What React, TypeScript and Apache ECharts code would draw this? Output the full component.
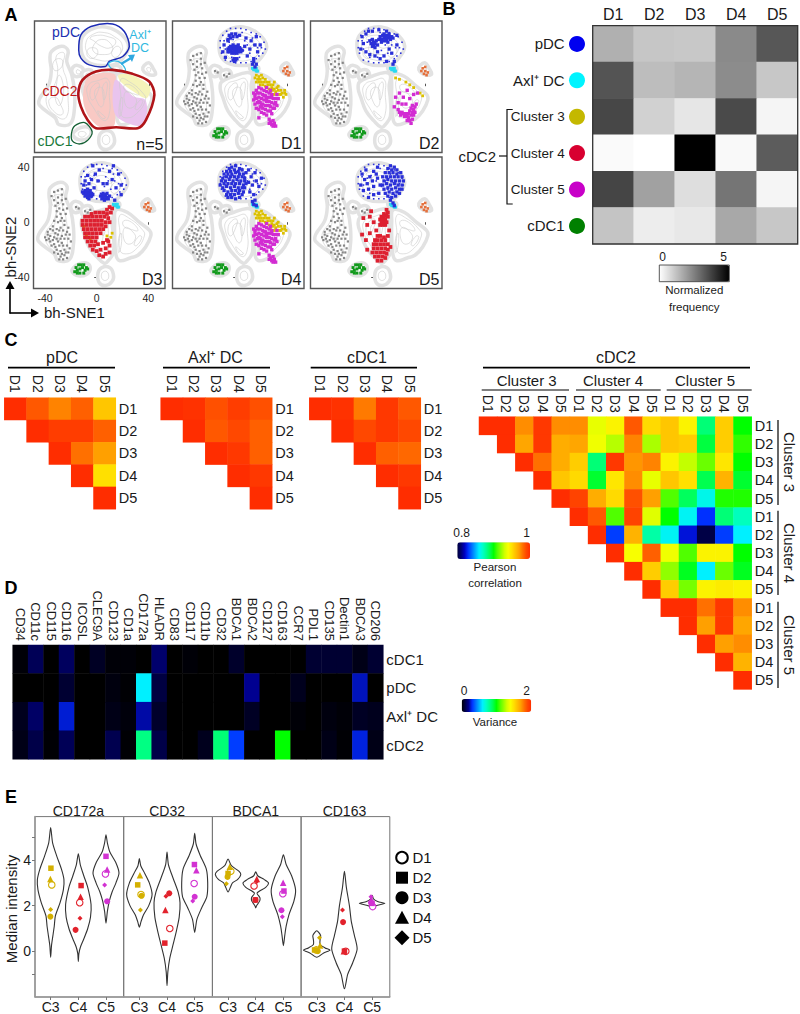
import React, { useEffect, useRef } from "react";
import * as echarts from "echarts";

const FONT = "Liberation Sans";
const donors = ["D1", "D2", "D3", "D4", "D5"];

// ---------- Panel B: normalized frequency
const freqRows = ["pDC", "Axl⁺ DC", "Cluster 3", "Cluster 4", "Cluster 5", "cDC1"];
const freqValues = [
  [1.55, 1.12, 1.08, 2.3, 3.3],
  [3.35, 1.3, 1.45, 2.25, 1.1],
  [3.6, 0.9, 0.5, 3.55, 0.2],
  [0.1, 0, 5, 0.12, 3.2],
  [3.65, 1.85, 0.65, 2.7, 0.2],
  [1.15, 0.35, 0.45, 1.7, 1.1],
];
const freqDotColors = ["#0000f0", "#00f4ff", "#c4b800", "#d80030", "#c800c8", "#008000"];

// ---------- Panel C: Pearson correlation (rows start on the diagonal)
const corrPDC = [[1, 0.986, 0.976, 0.984, 0.958], [1, 0.994, 0.994, 0.984], [1, 0.98, 0.97], [1, 0.95], [1]];
const corrAxl = [[1, 0.998, 0.988, 0.994, 0.988], [1, 0.986, 0.99, 0.984], [1, 0.996, 0.984], [1, 0.996], [1]];
const corrCDC1 = [[1, 0.998, 0.978, 0.996, 0.986], [1, 0.99, 0.996, 0.99], [1, 0.984, 0.982], [1, 0.996], [1]];
const corrCDC2 = [
  [1, 1, 0.974, 0.996, 0.974, 0.974, 0.936, 0.944, 0.986, 0.952, 0.958, 0.944, 0.884, 0.956, 0.9],
  [1, 0.968, 0.996, 0.966, 0.968, 0.938, 0.926, 0.976, 0.924, 0.958, 0.956, 0.892, 0.956, 0.906],
  [1, 0.98, 0.966, 0.956, 0.884, 0.996, 0.972, 0.976, 0.944, 0.928, 0.914, 0.948, 0.9],
  [1, 0.958, 0.952, 0.894, 0.948, 0.974, 0.936, 0.958, 0.95, 0.89, 0.964, 0.894],
  [1, 0.992, 0.966, 0.952, 0.988, 0.97, 0.91, 0.888, 0.864, 0.904, 0.904],
  [1, 0.986, 0.91, 0.992, 0.934, 0.9, 0.862, 0.83, 0.884, 0.872],
  [1, 0.832, 0.964, 0.876, 0.862, 0.824, 0.802, 0.832, 0.86],
  [1, 0.94, 0.984, 0.938, 0.91, 0.944, 0.944, 0.9],
  [1, 0.956, 0.92, 0.896, 0.86, 0.914, 0.896],
  [1, 0.956, 0.916, 0.944, 0.946, 0.944],
  [1, 1, 0.98, 0.996, 0.974],
  [1, 0.97, 0.996, 0.968],
  [1, 0.97, 0.974],
  [1, 0.964],
  [1],
];
const jetStops = ["#00003c", "#000070", "#0000c0", "#0030ff", "#0070ff", "#00b0ff", "#00f0ff", "#00ffc8", "#00ff90", "#00ff50", "#00ff00", "#50ff00", "#90ff00", "#d0ff00", "#f8ff00", "#ffe000", "#ffc000", "#ffa000", "#ff7000", "#ff4800", "#ff2d00"];
const varStops = ["#000000", "#000048", "#000090", ...jetStops.slice(3)];

// ---------- Panel D: variance
const markers = ["CD34", "CD11c", "CD115", "CD116", "ICOSL", "CLEC9A", "CD123", "CD1a", "CD172a", "HLADR", "CD83", "CD117", "CD11b", "CD32", "BDCA1", "BDCA2", "CD127", "CD163", "CCR7", "PDL1", "CD135", "Dectin1", "BDCA3", "CD206"];
const varRows = ["cDC1", "pDC", "Axl⁺ DC", "cDC2"];
const varValues = [
  [0.01, 0.12, 0, 0.13, 0, 0.05, 0.01, 0.01, 0, 0.15, 0, 0.01, 0, 0, 0.06, 0, 0, 0, 0, 0.07, 0.07, 0.07, 0.03, 0.07],
  [0, 0, 0, 0.07, 0, 0, 0.02, 0.005, 0.6, 0.09, 0, 0, 0, 0, 0, 0.2, 0, 0, 0.04, 0, 0, 0, 0.24, 0],
  [0.04, 0.14, 0, 0.26, 0, 0, 0.03, 0.015, 0.22, 0.06, 0, 0, 0, 0, 0, 0.05, 0, 0, 0.01, 0, 0.02, 0.01, 0.05, 0.04],
  [0.03, 0.1, 0.005, 0.12, 0, 0, 0.11, 0.005, 0.82, 0.1, 0, 0, 0.04, 0.84, 0.32, 0, 0, 1.0, 0, 0, 0.03, 0.005, 0.27, 0.03],
];

// ---------- Panel A: t-SNE islands (data coordinates)
const islands = [
  [[-13, 30], [-11, 37], [-3, 42], [6, 43], [15, 40], [22, 34], [24, 28], [20, 21], [14, 16], [6, 15], [-4, 16], [-11, 21]],
  [[-36, 25], [-28, 29], [-23, 26], [-24, 18], [-20, 8], [-18, -4], [-18, -16], [-21, -27], [-30, -28], [-33, -23], [-45, -14], [-45, -9], [-38, 1], [-36, 11], [-37, 20]],
  [[-19, 14], [-15, 15], [-11, 12], [-13, 8], [-17, 7], [-20, 10]],
  [[-12, 10], [-6, 12], [-3, 8], [-5, 5], [-10, 4]],
  [[-11, 3], [-2, 7], [9, 10], [13, 8], [12, 0], [13, -10], [13, -22], [9, -28], [6, -30], [0, -25], [-6, -18], [-10, -8], [-12, -2]],
  [[15, 9], [24, 7], [33, 0], [41, -6], [42, -10], [38, -18], [32, -24], [26, -26], [18, -28], [15, -24], [14, -10], [14, 0]],
  [[36, 15], [40, 17], [43, 13], [45, 9], [42, 8], [38, 9], [35, 12]],
  [[-18, -33], [-13, -30], [-7, -30], [-5, -34], [-8, -38], [-14, -39], [-19, -36]],
  [[1, -37], [4, -33], [10, -33], [13, -38], [12, -43], [7, -46], [2, -44]],
  [[11, 14], [15, 15], [18, 13], [16, 10], [12, 11]],
];
const contours = [
  [[-9, 32], [-3, 38], [5, 39], [13, 36], [19, 30], [17, 23], [10, 19], [1, 19], [-7, 23]],
  [[-3, 30], [3, 34], [10, 31], [11, 25], [4, 23], [-3, 25]],
  [[-6, 35], [0, 37], [8, 36], [14, 33], [10, 28], [3, 29], [-3, 33]],
  [[-8, 26], [-4, 28], [0, 26], [-2, 21], [-7, 21]],
  [[12, 27], [16, 29], [18, 25], [14, 21], [11, 23]],
  [[-32, 22], [-26, 24], [-27, 14], [-24, 4], [-23, -8], [-24, -22], [-30, -23], [-40, -11], [-33, 2], [-31, 12]],
  [[-30, 8], [-27, 2], [-27, -8], [-30, -14], [-33, -8], [-32, 1]],
  [[-34, 18], [-29, 20], [-27, 17], [-30, 12], [-34, 12]],
  [[-38, -11], [-33, -8], [-29, -13], [-27, -20], [-32, -20]],
  [[-7, 1], [0, 4], [8, 5], [9, -6], [9, -20], [5, -25], [-3, -16], [-8, -6]],
  [[-2, -3], [3, -1], [5, -8], [3, -15], [-1, -10]],
  [[-6, -5], [-3, 1], [1, 2], [0, -4], [-4, -10]],
  [[4, 0], [7, 3], [7, -4], [5, -10], [4, -6]],
  [[0, -18], [3, -20], [6, -23], [3, -23]],
  [[18, 5], [25, 3], [35, -5], [37, -10], [30, -20], [22, -23], [18, -20], [18, -8]],
  [[22, -4], [28, -7], [30, -12], [25, -16], [21, -12]],
  [[21, 1], [27, 0], [32, -6], [26, -5], [21, -3]],
  [[33, -10], [35, -11], [31, -17], [29, -16]],
  [[17, -12], [19, -8], [19, -17], [17, -22]],
  [[-16, 12], [-13, 10], [-16, 9]],
  [[-9, 9], [-6, 9], [-8, 6]],
  [[38, 13], [41, 13], [40, 10]],
  [[-15, -34], [-11, -33], [-9, -35], [-13, -37]],
  [[4, -37], [8, -36], [9, -41], [5, -42]],
];
const gatePDC = [[-14.7, 26.4], [-13, 37.3], [-5.2, 43.4], [11.6, 45.3], [20.7, 39.8], [24.5, 28.8], [19.4, 21.6], [9, 18], [6, 14.3], [-6.5, 15.5], [-13, 20.4]];
const gateAxl = [[8.5, 16.7], [13, 18.4], [18.3, 16.7], [21.6, 11.4], [14.3, 11.2], [10.4, 13]];
const gateCDC2 = [[-15, -5], [-11.7, 4.6], [-1.3, 10.7], [11.6, 11.9], [27, 9], [40, 3.4], [44, -6.3], [37.5, -24.5], [31, -30.5], [14.3, -29.8], [-1.3, -30.5], [-7.8, -24.5], [-13, -14.8]];
const gateCDC1 = [[-20.3, -34.2], [-17.7, -28.8], [-10, -26.4], [-4.3, -33], [-7.4, -39], [-13.8, -42], [-19.5, -40]];
const tintC4 = [[-11, -2.7], [-8.2, 5.8], [2, 9.5], [13.7, 8.2], [12.4, -3.9], [13.7, -18.4], [12.4, -29], [2, -29.8], [-7, -22], [-11, -12.4]];
const tintC5 = [[13.7, 4.6], [27.9, -7.5], [37, -10], [37.7, -22], [31.8, -29], [13.7, -20.8]];
const tintC3 = [[16, 8.2], [26.4, 8.2], [40.6, -0.2], [38, -8.7], [27.7, -3.9], [18, 3]];

// dots, as flat x,y lists
const bluD1 = [-6,27,-5,25,-5,28,-4,26,-4,29,-3,24,-3,27,-2,25,-2,28,-2,30,-1,24,-1,26,-1,28,0,25,0,27,0,29,1,24,1,26,1,28,2,25,2,27,2,30,3,26,3,28,4,25,4,27,-6,25,5,26,-5,37,-3,38,-2,36,0,38,-4,35,1,36,3,37,-6,34,-2,19,-1,20,0,19,-1,18,1,20,8,35,12,33,15,30,17,25,14,20,9,22,11,27,7,29,19,30,-9,30,-10,25,-8,21,-6,33,16,36,13,16,15,14,14,18,16,16];
const bluD2 = [5,36,6,34,7,37,7,33,8,35,8,38,9,33,9,36,10,34,10,37,11,35,11,32,12,36,12,38,13,34,6,32,14,36,4,34,15,35,10,40,-2,31,-1,29,0,32,0,30,1,28,1,31,2,33,-3,33,-1,34,3,30,-9,36,-6,38,-4,40,-8,31,-10,27,-6,25,-3,23,1,22,5,20,8,22,3,25,12,27,14,24,10,18,18,30,18,37,-1,40,4,41,16,18,15,16];
const bluD3 = [-10,21,-9,19,-9,23,-8,20,-8,22,-7,18,-7,21,-7,24,-6,19,-6,22,-5,20,-5,23,-4,19,-4,21,-11,22,-3,20,-6,17,3,19,4,17,4,20,5,18,5,21,6,16,6,19,7,17,7,20,8,18,8,21,9,17,10,19,-9,30,-7,34,-6,28,-4,31,-1,35,2,38,5,28,10,37,12,31,15,25,17,35,19,27,-2,25,1,30,8,28,-10,27,13,41,-3,41,19,20,14,16];
const bluD4 = [-3,40,0,41,3,39,-5,39,-7,37,-4,37,-1,38,2,37,5,38,-9,35,-6,35,-3,35,0,36,3,35,6,35,8,36,-10,32,-7,33,-4,33,-1,33,2,33,5,33,7,32,-11,30,-8,30,-5,31,-2,30,1,31,4,30,7,30,-12,27,-9,28,-6,28,-3,28,0,28,3,28,6,27,8,28,-10,25,-7,26,-4,25,-1,26,2,25,5,25,7,25,-9,23,-6,22,-3,23,0,23,3,23,6,22,-7,20,-4,20,-1,20,2,21,5,20,-3,18,0,17,3,18,-6,18,10,38,12,33,13,27,15,36,11,22,16,30,18,26,14,20,20,32,10,29,13,15,14,13,15,16,16,12];
const bluD5 = [13,41,16,40,11,39,14,38,18,38,9,36,12,36,15,36,18,35,21,36,7,33,10,33,13,33,16,33,19,33,22,33,8,30,11,31,14,30,17,30,20,30,23,30,7,27,10,28,13,27,16,28,19,27,22,27,8,24,11,25,14,24,17,25,20,24,22,24,9,21,12,22,15,21,18,22,20,21,11,19,14,18,17,19,13,16,-9,35,-6,38,-3,33,0,37,3,40,-1,30,-5,28,-10,27,-8,23,-4,24,0,26,3,32,4,21,0,20,-4,18,5,27,2,35,-7,31,15,14,16,12];
const bluFine = [-12,33,-10,37,-7,40,-4,42,0,42,4,42,8,41,12,39,16,38,19,36,22,32,23,27,21,24,18,22,16,20,12,18,8,17,4,17,0,17,-4,18,-8,19,-11,24,-12,28,-5,32,-2,34,2,30,6,26,9,30,11,24,14,30,13,35,7,33,-8,27,-3,21,3,21,17,28,20,28,5,39,-9,33];
const magMain = [16,-3,18,-1,20,-2,22,-3,24,-4,26,-5,28,-6,15,-6,17,-5,19,-5,21,-6,23,-7,25,-8,27,-8,29,-9,31,-9,16,-9,18,-8,20,-9,22,-10,24,-11,26,-11,28,-12,30,-13,17,-12,19,-12,21,-13,23,-14,25,-14,27,-15,29,-16,19,-15,21,-16,23,-17,25,-18,27,-18,28,-20,24,-21,26,-24,27,-26,29,-25,30,-27,28,-28,31,-29,26,-27,29,-29,22,-20,18,-23,14,-10,15,-13,16,-16,18,-17,20,-19,15,-8,14,-5,32,-6,33,-9,31,-12,32,-14,30,-16,24,-1,27,-3,20,-14,22,-7,18,-11,26,-14,28,-8,24,-9];
const magD2 = [29,-21,30,-19,31,-17,32,-15,33,-13,28,-18,29,-16,30,-14,27,-20,26,-22,25,-20,24,-22,23,-20,22,-19,21,-21,20,-19,19,-17,27,-23,28,-25,29,-27,30,-24,26,-25,31,-21,32,-19,17,-8,20,-5,23,-8,26,-3,28,-9,31,-6,22,-13,25,-13,34,-5,19,-12,16,-15];
const yelMain = [16,8,18,7,20,8,17,5,19,5,21,6,23,5,18,3,20,3,22,3,24,3,26,3,25,1,27,1,29,1,23,0,28,-1,30,-2,32,-1,31,-4,33,-3,35,-3,34,-6,36,-5,38,-5,30,-6,37,-8,33,-9,15,6,16,3,19,1,21,1,24,-1,26,-2,29,-3,27,-4,32,-6,35,-6,38,-3,39,-6,30,3,33,0];
const yelD2 = [17,6,20,5,25,3,31,-1,36,-5,38,-7,28,1];
const yelD3 = [-10,-3,-8,-10,-5,-12,8,-10,11,-11,12,-8];
const redD3 = [10,11,12,10,8,9,-4,6,-1,7,2,7,5,7,8,6,11,7,-9,4,-6,4,-3,4,0,4,3,4,6,4,9,3,-11,1,-8,1,-5,1,-2,1,1,1,4,1,7,0,10,0,-11,-2,-8,-2,-5,-2,-2,-2,1,-2,4,-2,7,-3,-10,-5,-7,-5,-4,-5,-1,-5,2,-5,5,-5,-9,-8,-6,-8,-3,-8,0,-8,3,-8,-9,-11,-6,-11,-3,-11,0,-11,-7,-14,-4,-14,-1,-14,-5,-17,-2,-17,1,-16,5,-15,8,-13,-3,-20,0,-21,3,-20,7,-19,10,-17,2,-24,5,-25,7,-23,10,-22,9,-14];
const redD5 = [10,9,11,7,8,6,10,5,6,4,8,4,11,4,5,2,7,2,9,2,6,0,8,0,10,0,5,-2,7,-2,9,-2,3,-10,5,-10,8,-11,1,-13,3,-13,6,-13,9,-13,0,-16,2,-16,5,-16,8,-16,11,-16,0,-19,3,-19,6,-19,9,-19,11,-20,-1,-22,2,-22,5,-22,8,-22,10,-23,1,-25,4,-25,7,-25,9,-26,3,-28,6,-28,-8,3,-5,-2,-3,4,-9,-9,-6,-13,-3,-8,0,0,2,-6,12,-6,11,-10,-5,-20,13,-18,-2,8];
const grayDots = [-30,18,-27,20,-32,12,-29,10,-26,13,-31,4,-27,3,-24,6,-34,-3,-31,-5,-28,-4,-25,-2,-22,-4,-36,-10,-33,-11,-30,-9,-27,-10,-24,-9,-39,-13,-36,-14,-33,-16,-30,-14,-27,-15,-25,-20,-28,-21,-31,-20,-25,-24,-28,-25,-22,-22,-38,-9,-16,11,-14,10,-9,8,-7,7,-5,9,-34,-6,-32,-8,-29,-6,-26,-6,-23,-7,-37,-12,-34,-13,-31,-12,-28,-12,-25,-12,-22,-12,-40,-11,-35,-17,-32,-18,-29,-17,-26,-17,-23,-17,-33,-22,-30,-23,-27,-23,-24,-22,-29,-27,-26,-27,-23,-26,-30,0,-28,1,-25,1,-33,1,-28,6,-31,8,-26,9,-23,10,-33,16,-30,14,-27,16,-24,17,-33,22,-30,23,-27,24,-35,19,-36,-5,-38,-7,-21,-9,-20,-14,-21,-19];
const greenDots = [-16,-33,-14,-31,-12,-31,-10,-31,-8,-33,-15,-35,-13,-34,-11,-33,-9,-35,-17,-36,-15,-37,-13,-37,-10,-37,-7,-34];
const orangeDots = [38,13,40,11,41,8,39,9,42,10,37,11,40,14];
const cyanDots = [14,12,15,12,16,11,17,11,15,13,16,13,13,13];

// ---------- Panel E: violin outlines as [intensity, half width] and points
const violinPanels = ["CD172a", "CD32", "BDCA1", "CD163"];
const clusterNames = ["C3", "C4", "C5"];
const clusterColors = ["#d4b000", "#e2222c", "#d232d2"];
const violins = [
  [
    [[5.42,0],[4.75,.07],[4.17,.22],[3.6,.39],[3.14,.48],[2.7,.46],[2.13,.34],[1.55,.17],[1.1,.13],[.68,.08],[.25,.03],[-.26,0]],
    [[4.27,0],[3.8,.07],[3.3,.2],[2.8,.34],[2.05,.46],[1.5,.44],[1,.34],[.55,.2],[.2,.08],[-.1,.02],[-.45,0]],
    [[5.1,0],[4.75,.05],[4.35,.14],[3.9,.35],[3.43,.47],[3,.36],[2.6,.22],[2.2,.12],[1.75,.05],[1.23,0]],
  ],
  [
    [[4.06,0],[3.75,.05],[3.4,.2],[3,.36],[2.49,.46],[2,.34],[1.6,.15],[1.3,.06],[1.06,0]],
    [[4.35,0],[3.8,.05],[3.2,.22],[2.6,.4],[2.13,.47],[1.5,.44],[.9,.34],[.3,.22],[-.3,.1],[-.9,.03],[-1.5,0]],
    [[5.17,0],[4.7,.05],[4.2,.2],[3.6,.42],[3,.47],[2.4,.44],[1.9,.25],[1.4,.08],[.83,0]],
  ],
  [
    [[4.04,0],[3.75,.12],[3.5,.4],[3.36,.46],[3.15,.35],[3,.16],[2.85,.1],[2.6,0]],
    [[3.48,0],[3.3,.08],[3.15,.3],[3,.46],[2.8,.36],[2.55,.05],[2.35,.15],[2.2,.14],[2,.03],[1.9,0]],
    [[4.23,0],[3.8,.1],[3.3,.3],[2.7,.44],[2.2,.38],[1.6,.2],[1.1,.1],[.7,.05],[.25,0]],
  ],
  [
    [[.9,0],[.7,.14],[.5,.12],[.3,.12],[.15,.3],[.05,.48],[-.07,.25],[-.26,0]],
    [[3.5,0],[2.8,.07],[2,.18],[1.3,.25],[.7,.36],[.1,.46],[-.5,.3],[-1,.12],[-1.64,0]],
    [[2.45,0],[2.3,.05],[2.18,.2],[2.1,.46],[2.02,.2],[1.95,.06],[1.85,0]],
  ],
];
// per panel, per cluster, per donor: [x on the category scale, intensity]
const violinPoints = [
  [
    [[1.04,2.91],[1.01,3.64],[.99,1.52],[.99,3.17],[1,1.83]],
    [[2.05,2.13],[2.1,2.88],[1.9,.94],[2.08,2.39],[2.06,1.45]],
    [[2.98,3.39],[3,4.16],[3.04,2.19],[3.04,3.58],[2.95,2.91]],
  ],
  [
    [[1.06,2.49],[.94,2.91],[1.08,2.43],[1.02,3.33],[1.04,1.81]],
    [[2.1,1],[1.92,.36],[2.08,2.54],[1.94,1.81],[1.96,2.41]],
    [[2.98,2.97],[2.99,3.8],[3,2.39],[3.06,3.55],[2.93,2.2]],
  ],
  [
    [[1.1,3.51],[1,3.41],[.98,3.26],[1.06,3.7],[.94,2.96]],
    [[1.94,2.86],[1.99,2.25],[1.99,2.25],[2.04,3.17],[2.04,3.06]],
    [[2.98,2.52],[3.02,2.64],[2.93,1.8],[2.99,3],[2.96,1.51]],
  ],
  [
    [[.98,.06],[.92,.06],[1.04,.01],[1.12,.25],[1.1,.6]],
    [[2.05,0],[2,.01],[1.95,1.28],[1.98,0],[1.93,1.81]],
    [[3.02,1.96],[3,2.1],[2.96,2.13],[2.98,2.25],[2.96,2.39]],
  ],
];
const donorSymbols = ["circle", "rect", "circle", "triangle", "diamond"];
const donorSizes = [6.5, 5.5, 6, 6.5, 5];

const pairs = (flat: number[]) => {
  const out: number[][] = [];
  for (let i = 0; i < flat.length; i += 2) out.push([flat[i], flat[i + 1]]);
  return out;
};

function buildOption() {
  const grid: any[] = [], xAxis: any[] = [], yAxis: any[] = [], series: any[] = [], visualMap: any[] = [], graphic: any[] = [];

  const addGrid = (left: number, top: number, width: number, height: number, gridExtra: any, x: any, y: any) => {
    grid.push({ left, top, width, height, containLabel: false, ...gridExtra });
    xAxis.push({ gridIndex: grid.length - 1, ...x });
    yAxis.push({ gridIndex: grid.length - 1, ...y });
    return grid.length - 1;
  };
  const txt = (x: number, y: number, text: string, size: number, o: any = {}) =>
    graphic.push({
      type: "text", x, y, rotation: o.rot || 0, z: 100, silent: true,
      style: { text, fontSize: size, fontFamily: FONT, fontWeight: o.weight || "normal", fill: o.color || "#1a1a1a", textAlign: o.align || "center", textVerticalAlign: "middle", align: o.align || "center", verticalAlign: "middle" },
    });
  const ln = (x1: number, y1: number, x2: number, y2: number, w = 1.5, stroke = "#111") =>
    graphic.push({ type: "line", z: 100, silent: true, shape: { x1, y1, x2, y2 }, style: { stroke, lineWidth: w } });
  const box = (x: number, y: number, width: number, height: number, stroke = "#444", w = 1) =>
    graphic.push({ type: "rect", z: 100, silent: true, shape: { x, y, width, height }, style: { fill: "none", stroke, lineWidth: w } });

  const polySeries = (g: number, polys: number[][][], style: any, smooth = 0.45, z = 2) =>
    series.push({
      type: "custom", coordinateSystem: "cartesian2d", xAxisIndex: g, yAxisIndex: g, silent: true, z, clip: false,
      data: polys.map((p) => p[0]),
      renderItem: (params: any, api: any) => ({
        type: "polygon",
        shape: { points: polys[params.dataIndex].map((p) => api.coord(p)), smooth },
        style,
      }),
    });
  const dotSeries = (g: number, flat: number[], color: string, size = 2.8) =>
    series.push({ type: "scatter", xAxisIndex: g, yAxisIndex: g, data: pairs(flat), symbol: "rect", symbolSize: size, itemStyle: { color, opacity: 1 }, silent: true, z: 4 });

  // ---- letters
  txt(11, 15, "A", 18, { weight: "bold", color: "#000" });
  txt(449, 9, "B", 18, { weight: "bold", color: "#000" });
  txt(11, 340, "C", 18, { weight: "bold", color: "#000" });
  txt(11, 588, "D", 18, { weight: "bold", color: "#000" });
  txt(11, 797, "E", 18, { weight: "bold", color: "#000" });

  // ---- Panel A
  const tsnePanels: any[] = [
    { l: 34.5, t: 21, name: "n=5" },
    { l: 172.5, t: 21, name: "D1", blue: bluD1, mag: magMain, yel: yelMain, gray: grayDots },
    { l: 310.5, t: 21, name: "D2", blue: bluD2, mag: magD2, yel: yelD2, gray: grayDots },
    { l: 33.5, t: 157, name: "D3", blue: bluD3, red: redD3, yel: yelD3, gray: grayDots, labelled: true },
    { l: 172.5, t: 157, name: "D4", blue: bluD4, mag: magMain, yel: yelMain, gray: grayDots },
    { l: 310.5, t: 157, name: "D5", blue: bluD5, red: redD5, gray: grayDots },
  ];
  tsnePanels.forEach((p) => {
    const lab = !!p.labelled;
    const axisBase = { type: "value", splitLine: { show: false }, axisLine: { show: false } };
    const g = addGrid(p.l, p.t, 131.5, 131.5, {},
      {
        ...axisBase, min: -49, max: 53, position: "bottom",
        axisTick: { show: true, length: 2.5, inside: p.t < 100, lineStyle: { color: "#555" }, customValues: [-40, -20, 0, 20, 40] },
        axisLabel: { show: lab, fontSize: 10.5, fontFamily: FONT, color: "#222", margin: 4, customValues: [-40, 0, 40] },
      },
      {
        ...axisBase, min: -48.2, max: 47.4, position: "left",
        axisTick: { show: true, length: 2.5, inside: p.t < 100, lineStyle: { color: "#555" }, customValues: [-40, -20, 0, 20, 40] },
        axisLabel: { show: lab, fontSize: 10.5, fontFamily: FONT, color: "#222", margin: 4, customValues: [-40, 0, 40] },
      });
    polySeries(g, islands, { fill: "#fff", stroke: "#e2e2e2", lineWidth: 3.5 }, 0.4, 1);
    if (p.name === "n=5") {
      polySeries(g, [tintC4], { fill: "#f9c9c4", stroke: "none" }, 0.3, 2);
      polySeries(g, [tintC5], { fill: "#e9c4ee", stroke: "none" }, 0.3, 2);
      polySeries(g, [tintC3], { fill: "#f5f3ba", stroke: "none" }, 0.3, 2);
    }
    polySeries(g, contours, { fill: "none", stroke: "#cbcbcb", lineWidth: 0.6 }, 0.5, 3);
    if (p.name === "n=5") {
      polySeries(g, [gatePDC], { fill: "none", stroke: "#1c2bb4", lineWidth: 1.5 }, 0.3, 5);
      polySeries(g, [gateAxl], { fill: "none", stroke: "#30b8e4", lineWidth: 1.3 }, 0.3, 5);
      polySeries(g, [gateCDC2], { fill: "none", stroke: "#b01418", lineWidth: 2.6 }, 0.3, 5);
      polySeries(g, [gateCDC1], { fill: "none", stroke: "#146034", lineWidth: 1.3 }, 0.3, 5);
    } else {
      dotSeries(g, p.gray, "#868686", 2.2);
      dotSeries(g, greenDots, "#129a1c", 3);
      dotSeries(g, orangeDots, "#e4703c", 2.6);
      dotSeries(g, cyanDots, "#2ad8f0", 3);
      if (p.yel) dotSeries(g, p.yel, "#dcc000");
      if (p.mag) dotSeries(g, p.mag, "#d22cd2", 3.4);
      if (p.red) dotSeries(g, p.red, "#dd2030", 3.8);
      dotSeries(g, bluFine, "#2a30d8", 1.6);
      dotSeries(g, p.blue, "#2a30d8", 3.3);
    }
    box(p.l, p.t, 131.5, 131.5, "#555", 1.4);
    txt(p.l + 129, p.t + (p.name === "n=5" ? 123 : 122), p.name, 16, { align: "right" });
  });
  txt(66, 32, "pDC", 14, { color: "#2030b0" });
  txt(140, 35, "Axl⁺", 12.5, { color: "#30b8e0" });
  txt(140, 48, "DC", 12.5, { color: "#30b8e0" });
  txt(60, 91, "cDC2", 14, { color: "#c01818" });
  txt(55, 141, "cDC1", 14, { color: "#1a7a3c" });
  ln(121, 64, 131, 58, 2.4, "#30a8e0");
  graphic.push({ type: "polygon", z: 100, silent: true, shape: { points: [[135, 54.5], [128, 55], [132, 62]] }, style: { fill: "#30a8e0" } });
  txt(10, 247, "bh-SNE2", 15, { rot: Math.PI / 2 });
  txt(44, 312, "bh-SNE1", 15, { align: "left" });
  ln(10, 287, 10, 313.5, 1.6, "#000");
  ln(9.5, 313, 33, 313, 1.6, "#000");
  graphic.push({ type: "polygon", z: 100, silent: true, shape: { points: [[10, 281], [5.5, 289], [14.5, 289]] }, style: { fill: "#000" } });
  graphic.push({ type: "polygon", z: 100, silent: true, shape: { points: [[39, 313], [31, 308.5], [31, 317.5]] }, style: { fill: "#000" } });

  // ---- heatmaps
  const heat = (left: number, top: number, width: number, height: number, xc: string[], yc: string[], rows: number[][], tri: boolean, x: any, y: any) => {
    const g = addGrid(left, top, width, height, {},
      { type: "category", data: xc, position: "top", axisLine: { show: false }, axisTick: { show: false }, splitLine: { show: false }, splitArea: { show: false }, ...x },
      { type: "category", data: yc, inverse: true, axisLine: { show: false }, axisTick: { show: false }, splitLine: { show: false }, splitArea: { show: false }, ...y });
    const data: number[][] = [];
    rows.forEach((row, r) => row.forEach((v, k) => data.push([tri ? r + k : k, r, v])));
    series.push({ type: "heatmap", xAxisIndex: g, yAxisIndex: g, data, silent: true, z: 3 });
    return series.length - 1;
  };

  // Panel B
  const sB = heat(592.7, 25.7, 205, 218.3, donors, freqRows, freqValues, false,
    { axisLabel: { show: true, fontSize: 16, fontFamily: FONT, color: "#1a1a1a", margin: 3 } },
    {
      position: "left",
      axisLabel: {
        show: true, margin: 28, fontFamily: FONT, color: "#1a1a1a",
        formatter: (v: string) => (v.startsWith("Cluster") ? `{c|${v}}` : `{m|${v}}`),
        rich: { c: { fontSize: 13.5, fontFamily: FONT, color: "#1a1a1a" }, m: { fontSize: 15, fontFamily: FONT, color: "#1a1a1a" } },
      },
    });
  box(592.7, 25.7, 205, 218.3, "#333", 1.3);
  freqDotColors.forEach((c, i) =>
    graphic.push({ type: "circle", z: 100, silent: true, shape: { cx: 577, cy: 43.9 + i * 36.4, r: 8 }, style: { fill: c } }));
  graphic.push({ type: "polyline", z: 100, silent: true, shape: { points: [[512.7, 109.5], [507, 109.5], [507, 204], [512.7, 204]] }, style: { stroke: "#111", lineWidth: 1.2, fill: "none" } });
  ln(499, 156, 507, 156, 1.2);
  txt(496, 156, "cDC2", 15, { align: "right" });
  visualMap.push({ type: "continuous", seriesIndex: sB, dimension: 2, min: 0, max: 5, left: 659.3, top: 265, itemWidth: 16.7, itemHeight: 70, orient: "horizontal", calculable: false, hoverLink: false, padding: 0, inRange: { color: ["#ffffff", "#000000"] } });
  box(659.3, 265, 70, 16.7, "#333", 0.8);
  txt(662.7, 257, "0", 12);
  txt(723.7, 257, "5", 12);
  txt(694.3, 290, "Normalized", 11.5);
  txt(694.3, 306.7, "frequency", 11.5);

  // Panel C small
  const smalls: [string, number, number, number[][], number, number][] = [
    ["pDC", 4.3, 62, corrPDC, 8, 115],
    ["Axl⁺ DC", 160.7, 215.5, corrAxl, 163, 270],
    ["cDC1", 309.3, 367, corrCDC1, 310.7, 417],
  ];
  const corrSeries: number[] = [];
  const xRot = (size: number, margin: number) => ({ axisLabel: { show: true, rotate: 90, fontSize: size, fontFamily: FONT, color: "#1a1a1a", margin, interval: 0 } });
  const yRight = (size: number, margin: number) => ({ position: "right", axisLabel: { show: true, fontSize: size, fontFamily: FONT, color: "#1a1a1a", margin, interval: 0 } });
  smalls.forEach(([title, left, cx, rows, x1, x2]) => {
    corrSeries.push(heat(left, 397.7, 111.5, 111.5, donors, donors, rows, true, xRot(14, 5), yRight(14.5, 3)));
    txt(cx, 357, title, 16);
    ln(x1, 367.7, x2, 367.7, 1.8, "#000");
  });

  // Panel C cDC2
  const cats = [...donors, ...donors, ...donors].map((d, i) => i + ":" + d);
  const fmt = (v: string) => v.split(":")[1];
  corrSeries.push(heat(479, 416.7, 272.7, 272.7, cats, cats, corrCDC2, true,
    { axisLabel: { show: true, rotate: 90, fontSize: 14, fontFamily: FONT, color: "#1a1a1a", margin: 4, interval: 0, formatter: fmt } },
    { position: "right", axisLabel: { show: true, fontSize: 14.5, fontFamily: FONT, color: "#1a1a1a", margin: 3, interval: 0, formatter: fmt } }));
  txt(616, 357, "cDC2", 16);
  ln(483, 367.7, 750, 367.7, 1.8, "#000");
  [["Cluster 3", 526.7, 481.7, 569], ["Cluster 4", 613, 576, 660.7], ["Cluster 5", 705, 666.7, 751.7]].forEach((c: any) => {
    txt(c[1], 380, c[0], 15);
    ln(c[2], 390, c[3], 390, 1.2, "#000");
  });
  [["Cluster 3", 420, 505, 462], ["Cluster 4", 510.7, 595, 553], ["Cluster 5", 601.7, 688, 645]].forEach((c: any) => {
    ln(778, c[1], 778, c[2], 1.2, "#000");
    txt(789, c[3], c[0], 15, { rot: -Math.PI / 2 });
  });
  visualMap.push({ type: "continuous", seriesIndex: corrSeries, dimension: 2, min: 0.8, max: 1, left: 457.3, top: 542.3, itemWidth: 16.7, itemHeight: 72.7, orient: "horizontal", calculable: false, hoverLink: false, padding: 0, inRange: { color: jetStops } });
  txt(461.7, 532.7, "0.8", 12);
  txt(526.7, 532.7, "1", 12);
  txt(495, 566.7, "Pearson", 11.5);
  txt(495, 583, "correlation", 11.5);

  // Panel D
  const sD = heat(12.7, 645, 370.6, 114.3, markers, varRows, varValues, false,
    xRot(13, 4),
    yRight(15, 3));
  visualMap.push({ type: "continuous", seriesIndex: sD, dimension: 2, min: 0, max: 2, left: 461.7, top: 699, itemWidth: 13, itemHeight: 69.5, orient: "horizontal", calculable: false, hoverLink: false, padding: 0, inRange: { color: varStops } });
  txt(464, 690.7, "0", 12);
  txt(526.7, 690.7, "2", 12);
  txt(495, 721.7, "Variance", 11.5);

  // Panel E
  const panelW = 88.7;
  violinPanels.forEach((name, pi) => {
    const left = 35 + pi * panelW;
    const g = addGrid(left, 816.6, panelW, 181.7, { show: true, borderColor: "#777", borderWidth: 1, backgroundColor: "transparent" },
      {
        type: "value", min: 0.434, max: 3.64, position: "bottom", splitLine: { show: false },
        axisLine: { show: true, onZero: false, lineStyle: { color: "#999", width: 1.5 } },
        axisTick: { show: true, length: 3, lineStyle: { color: "#777" }, customValues: [1, 2, 3] },
        axisLabel: { show: true, fontSize: 14, fontFamily: FONT, color: "#1a1a1a", margin: 3, customValues: [1, 2, 3], formatter: (v: number) => clusterNames[Math.round(v) - 1] || "" },
      },
      {
        type: "value", min: -2, max: 5.9, position: "left", splitLine: { show: false },
        axisLine: { show: pi === 0, onZero: false, lineStyle: { color: "#999", width: 1.5 } },
        axisTick: { show: pi === 0, length: 3, lineStyle: { color: "#777" }, customValues: [-1, 0, 2, 4, 5] },
        axisLabel: { show: pi === 0, fontSize: 14, fontFamily: FONT, color: "#1a1a1a", margin: 4, customValues: [0, 2, 4] },
      });
    txt(left + panelW / 2 - 1, 811, name, 14);
    violins[pi].forEach((profile, ci) => {
      const c = ci + 1;
      const right = profile.map(([y, w]) => [c + w, y]);
      const leftSide = profile.slice(1, -1).reverse().map(([y, w]) => [c - w, y]);
      polySeries(g, [[...right, ...leftSide]], { fill: "none", stroke: "#333", lineWidth: 1.1 }, 0.25, 3);
    });
    donors.forEach((d, di) => {
      const data = violinPoints[pi].map((cl, ci) => ({
        value: cl[di],
        itemStyle: di === 0
          ? { color: "#fff", borderColor: clusterColors[ci], borderWidth: 1.1, opacity: 1 }
          : { color: clusterColors[ci], opacity: 1 },
      }));
      series.push({ type: "scatter", name: d, xAxisIndex: g, yAxisIndex: g, data, symbol: donorSymbols[di], symbolSize: donorSizes[di], silent: true, z: 5 + (di === 0 ? 0 : 1) });
    });
  });
  txt(11, 909, "Median intensity", 15, { rot: Math.PI / 2 });
  const legY = [857.7, 877.7, 897.7, 917.7, 937.7];
  donors.forEach((d, i) => txt(412.5, legY[i], d, 15, { align: "left", color: "#111" }));
  graphic.push({ type: "circle", z: 100, silent: true, shape: { cx: 402, cy: legY[0], r: 5.8 }, style: { fill: "#fff", stroke: "#000", lineWidth: 2 } });
  graphic.push({ type: "rect", z: 100, silent: true, shape: { x: 396, y: legY[1] - 6, width: 12, height: 12 }, style: { fill: "#000" } });
  graphic.push({ type: "circle", z: 100, silent: true, shape: { cx: 402, cy: legY[2], r: 6.5 }, style: { fill: "#000" } });
  graphic.push({ type: "polygon", z: 100, silent: true, shape: { points: [[402, legY[3] - 7], [409, legY[3] + 6], [395, legY[3] + 6]] }, style: { fill: "#000" } });
  graphic.push({ type: "polygon", z: 100, silent: true, shape: { points: [[402, legY[4] - 7.5], [409.5, legY[4]], [402, legY[4] + 7.5], [394.5, legY[4]]] }, style: { fill: "#000" } });

  return { animation: false, backgroundColor: "#fff", textStyle: { fontFamily: FONT }, grid, xAxis, yAxis, series, visualMap, graphic: { elements: graphic } };
}

export default function App() {
  const ref = useRef<HTMLDivElement>(null);
  useEffect(() => {
    document.body.style.margin = "0";
    const chart = echarts.init(ref.current!, undefined, { renderer: "svg" });
    chart.setOption(buildOption() as any);
    return () => chart.dispose();
  }, []);
  return <div ref={ref} style={{ width: 800, height: 1014, background: "#fff" }} />;
}
